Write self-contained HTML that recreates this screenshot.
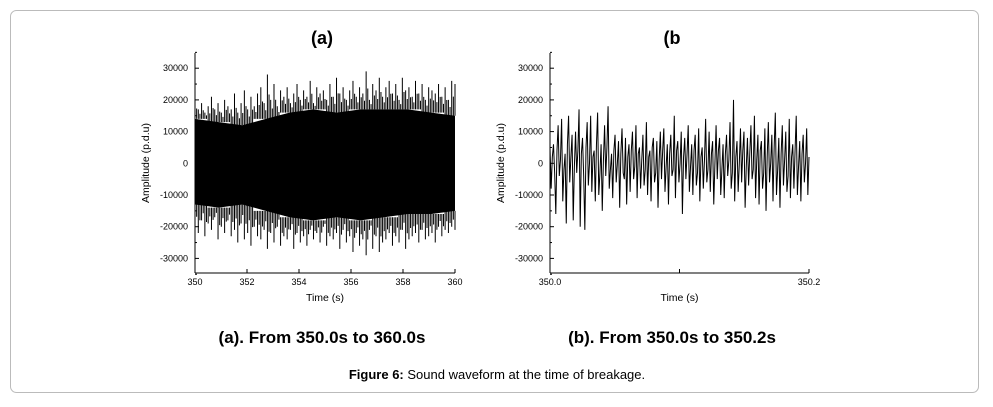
<!DOCTYPE html>
<html><head><meta charset="utf-8">
<style>
body{margin:0;background:#fff;width:993px;height:402px;overflow:hidden;font-family:"Liberation Sans",sans-serif}
</style></head>
<body>
<svg width="993" height="402" xmlns="http://www.w3.org/2000/svg" style="font-family:'Liberation Sans',sans-serif">
<rect x="10.5" y="10.5" width="968" height="382" rx="6" fill="#fff" stroke="#bbb"/>
<text x="322" y="44" font-size="18" font-weight="bold" text-anchor="middle">(a)</text>
<text x="672" y="44" font-size="18" font-weight="bold" text-anchor="middle">(b</text>
<text x="322" y="343" font-size="17" font-weight="bold" text-anchor="middle">(a). From 350.0s to 360.0s</text>
<text x="672" y="343" font-size="17" font-weight="bold" text-anchor="middle">(b). From 350.0s to 350.2s</text>
<text x="497" y="379" font-size="13" text-anchor="middle"><tspan font-weight="bold">Figure 6:</tspan> Sound waveform at the time of breakage.</text>
<g id="chartA"></g>
<g id="chartB"></g>
</svg>
<script>
// Panel (a) data (amplitude in thousands)
const aUpper=[20,17,19,16,18,21,17,19,16,20,18,17,22,16,19,23,17,21,18,22,24,19,28,20,25,18,23,21,24,19,22,25,20,23,21,26,19,24,22,23,20,25,21,27,22,24,20,23,26,21,24,22,29,20,25,23,27,21,24,26,22,25,20,27,23,24,21,26,22,25,20,24,23,22,25,21,24,20,26,25];
const aLower=[-20,-22,-18,-23,-19,-21,-17,-24,-20,-22,-18,-23,-21,-25,-19,-24,-22,-26,-20,-23,-24,-21,-27,-22,-25,-20,-26,-23,-24,-21,-27,-22,-25,-23,-26,-21,-24,-22,-25,-20,-26,-23,-24,-22,-27,-21,-25,-23,-28,-22,-26,-24,-29,-21,-27,-23,-28,-25,-24,-22,-26,-23,-25,-21,-27,-24,-23,-22,-25,-21,-24,-23,-22,-25,-20,-23,-21,-22,-20,-21];
const aCoreUp=[14,13,12,14,16,17,16,17,17,17,16,15];
const aCoreDn=[-13,-14,-13,-15,-17,-18,-17,-18,-17,-16,-16,-15];
const aXTicks=["350","352","354","356","358","360"];
// Panel (b) data (thousands)
const bValues=[5,-8,2,6,-3,-16,4,12,-4,1,14,-12,-2,3,-19,6,15,-6,2,9,-18,-1,10,-3,4,17,-20,3,8,-4,-21,5,13,-7,0,15,-9,2,4,-12,6,16,-10,-3,6,-15,1,12,-4,5,18,-8,-2,3,-11,4,9,-6,0,7,-14,3,11,-3,-5,8,-13,2,6,-9,4,10,-5,-1,12,-11,3,5,-8,1,9,-7,-2,13,-10,2,4,-12,5,8,-6,-3,7,-14,1,10,-5,4,11,-9,-1,6,-13,3,9,-4,-2,15,-11,4,7,-6,0,10,-16,2,8,-5,3,12,-9,-1,6,-10,4,9,-7,-3,11,-12,2,5,-8,1,14,-6,-2,10,-9,3,7,-13,0,12,-5,4,8,-10,-2,6,-11,3,9,-4,1,13,-8,-3,20,-12,2,7,-9,0,11,-6,4,10,-14,-1,8,-7,3,12,-5,-2,15,-11,1,9,-13,4,7,-8,-3,11,-15,2,13,-6,0,9,-12,5,16,-10,-2,8,-14,3,12,-7,1,10,-9,-4,14,-11,2,6,-8,4,15,-10,-1,7,-12,3,9,-6,0,11,-10,2];
const bXTicks=["350.0","350.2"];
const yTicks=[30000,20000,10000,0,-10000,-20000,-30000];

const NS="http://www.w3.org/2000/svg";
function mk(p,t,a){const e=document.createElementNS(NS,t);for(const k in a)e.setAttribute(k,a[k]);p.appendChild(e);return e;}
const yS=v=>163.3-v/10000*31.7;

function axes(g,x0,x1,ticksX,labelX,tickCount){
  mk(g,'line',{x1:x0,y1:53,x2:x0,y2:273,stroke:'#000','stroke-width':1});
  mk(g,'line',{x1:x0,y1:273,x2:x1,y2:273,stroke:'#000','stroke-width':1});
  for(let v=35000;v>=-35000;v-=5000){const y=yS(v);mk(g,'line',{x1:x0,y1:y,x2:x0+(v%10000===0?4:2),y2:y,stroke:'#000'});}
  yTicks.forEach(v=>{const t=mk(g,'text',{x:x0-7,y:yS(v)+3,'font-size':9,'text-anchor':'end'});t.textContent=v;
    
    });
  for(let i=0;i<=tickCount;i++){const x=x0+(x1-x0)*i/tickCount;mk(g,'line',{x1:x,y1:273,x2:x,y2:269,stroke:'#000'});}
  ticksX.forEach((s,i)=>{const x=x0+(x1-x0)*i/(ticksX.length-1);const t=mk(g,'text',{x:x,y:labelX,'font-size':9,'text-anchor':'middle'});t.textContent=s;
    
    });
  const xt=mk(g,'text',{x:(x0+x1)/2,y:labelX+16,'font-size':10.5,'text-anchor':'middle'});xt.textContent='Time (s)';
  
  
  const yt=mk(g,'text',{x:0,y:0,'font-size':10.5,'text-anchor':'middle',transform:`translate(${x0-46},163) rotate(-90)`});yt.textContent='Amplitude (p.d.u)';
  
  
}

// Chart A
const gA=document.getElementById('chartA');
const ax0=195,ax1=455;
const xA=(i,n)=>ax0+(ax1-ax0)*i/(n-1);
let pts=[];
aCoreUp.forEach((v,i)=>pts.push(xA(i,aCoreUp.length)+','+yS(v*1000)));
for(let i=aCoreDn.length-1;i>=0;i--)pts.push(xA(i,aCoreDn.length)+','+yS(aCoreDn[i]*1000));
const core=mk(gA,'polygon',{points:pts.join(' '),fill:'#000'});


function coreAt(arr,i,n){return arr[Math.round(i/(n-1)*(arr.length-1))];}
let up='',dn='';
aUpper.forEach((v,i)=>{const n=aUpper.length,x=xA(i,n),c=coreAt(aCoreUp,i,n);
  up+=`M${x},${yS(c*1000)}L${x},${yS(v*1000)}`;
  if(i<n-1){const x2=xA(i+0.5,n);up+=`M${x2},${yS(c*1000)}L${x2},${yS((c+(v-c)*0.55)*1000)}`;}});
aLower.forEach((v,i)=>{const n=aLower.length,x=xA(i,n),c=coreAt(aCoreDn,i,n);
  dn+=`M${x},${yS(c*1000)}L${x},${yS(v*1000)}`;
  if(i<n-1){const x2=xA(i+0.5,n);dn+=`M${x2},${yS(c*1000)}L${x2},${yS((c+(v-c)*0.55)*1000)}`;}});
const pu=mk(gA,'path',{d:up,stroke:'#000','stroke-width':1,fill:'none'});


const pd=mk(gA,'path',{d:dn,stroke:'#000','stroke-width':1,fill:'none'});


axes(gA,ax0,ax1,aXTicks,285,5);

// Chart B
const gB=document.getElementById('chartB');
const bx0=550,bx1=809;
const xB=i=>bx0+(bx1-bx0)*i/(bValues.length-1);
const bl=mk(gB,'polyline',{points:bValues.map((v,i)=>xB(i)+','+yS(v*1000)).join(' '),fill:'none',stroke:'#000','stroke-width':1});


axes(gB,bx0,bx1,bXTicks,285,2);
</script>
</body></html>
